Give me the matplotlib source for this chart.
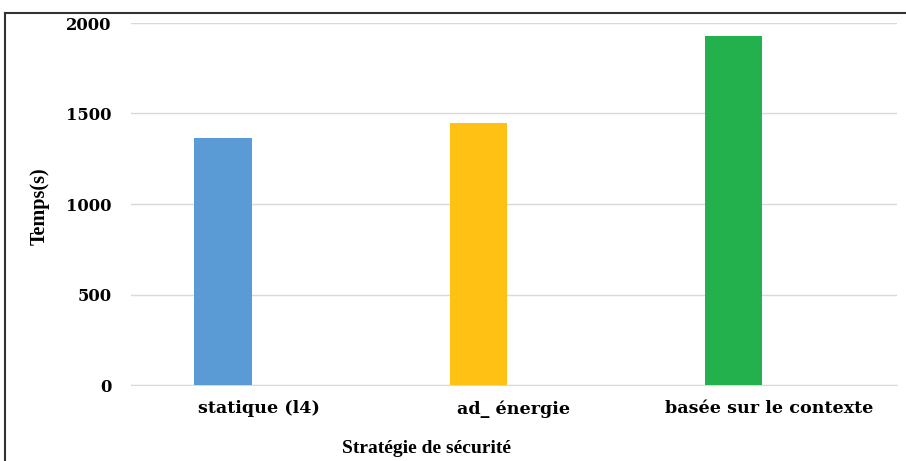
import matplotlib
matplotlib.use('Agg')  # noqa
import matplotlib.pyplot as plt
from matplotlib.lines import Line2D

categories = ['statique (l4)', 'ad_ énergie', 'basée sur le contexte']
temps = [1367, 1447, 1926]
colors = ['#5B9BD5', '#FFC214', '#23B14D']
yticks = [0, 500, 1000, 1500, 2000]

plt.rcParams['font.family'] = ['Liberation Serif', 'DejaVu Serif']
plt.rcParams['font.weight'] = 'bold'

fig = plt.figure(figsize=(9.06, 4.61), dpi=100)
ax = fig.add_axes([131 / 906, 1 - 385 / 461, (897 - 131) / 906, (385 - 23) / 461])

x = list(range(len(categories)))
bar_x = [i - 0.14 for i in x]
ax.bar(bar_x, temps, width=0.224, color=colors, zorder=3)

ax.set_xlim(-0.5, len(categories) - 0.5)
ax.set_ylim(0, 2000)
ax.set_yticks(yticks)
ax.set_xticks(x)
ax.set_xticklabels(categories)
ax.grid(axis='y', color='#D9D9D9', linewidth=1, zorder=0)
ax.tick_params(axis='both', length=0)
ax.tick_params(axis='y', pad=14)
ax.tick_params(axis='x', pad=11)
# the reference's tick text is wide, a wider serif matches it better
for lab in ax.get_yticklabels():
    lab.set_fontfamily('DejaVu Serif')
    lab.set_fontsize(11.8)
for lab in ax.get_xticklabels():
    lab.set_fontfamily('DejaVu Serif')
    lab.set_fontsize(12.6)
for s in ['top', 'right', 'left']:
    ax.spines[s].set_visible(False)
ax.spines['bottom'].set_color('#D9D9D9')

fig.text(40 / 906, 1 - 206 / 461, 'Temps(s)', rotation=90, ha='center', va='center',
         fontsize=14.5, fontweight='bold')
fig.text(427 / 906, 1 - 448 / 461, 'Stratégie de sécurité', ha='center', va='center',
         fontsize=14, fontweight='bold')

# border pieces visible in the cropped reference
fig.add_artist(Line2D([5 / 906, 1], [1 - 13.5 / 461, 1 - 13.5 / 461],
                      transform=fig.transFigure, color='#333333', linewidth=1.5))
fig.add_artist(Line2D([5 / 906, 5 / 906], [0, 1 - 13.5 / 461],
                      transform=fig.transFigure, color='#333333', linewidth=1.5))

plt.savefig('out.png', dpi=100)
